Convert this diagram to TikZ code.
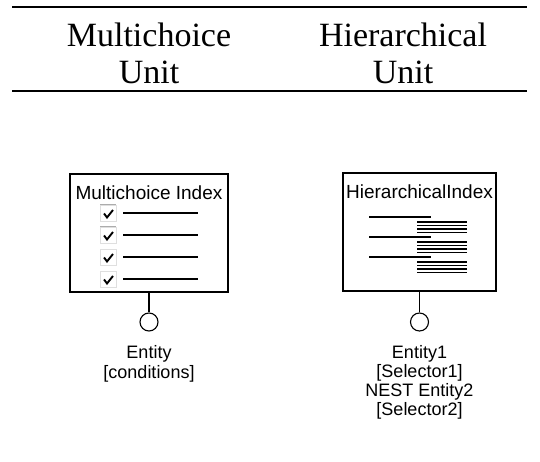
\documentclass[tikz,border=0pt]{standalone}
\usepackage{fontspec}
\setmainfont{Liberation Serif}
\newfontfamily\arialf{Liberation Sans}
\begin{document}
\begin{tikzpicture}[x=1pt,y=-1pt,
  rule/.style={line width=1.8pt},
  hdr/.style={font=\fontsize{34}{36.5}\selectfont, align=center, inner sep=0pt, anchor=north},
  ubox/.style={draw, line width=1.3pt, inner sep=0pt},
  ttl/.style={font=\arialf\fontsize{19}{22}\selectfont, inner sep=0pt, anchor=base},
  stem/.style={line width=1.3pt},
  port/.style={draw, circle, line width=1.1pt, minimum size=18pt, inner sep=0pt},
  lbl/.style={font=\arialf\fontsize{18}{20}\selectfont, align=center, inner sep=0pt, anchor=north},
  bar/.style={line width=1.3pt},
  sbar/.style={line width=1.1pt},
  chk/.style={minimum size=16pt, inner sep=0pt, draw=gray!25, fill=white, line width=0.8pt,
    path picture={
      \draw[line width=2.6pt, gray!65]
        (path picture bounding box.south west) -- (path picture bounding box.north west)
        -- (path picture bounding box.north east);
      \draw[black, line width=1.9pt, line join=miter]
        ([shift={(-4,0.5)}]path picture bounding box.center) -- ++(3,4) -- ++(6,-7.5);
    }},
]
\path[use as bounding box] (0,0) rectangle (540,462);

% header rules
\coordinate (r1a) at (12,7);
\coordinate (r1b) at (527,7);
\coordinate (r2a) at (12,91);
\coordinate (r2b) at (527,91);
\draw[rule] (r1a) -- (r1b);
\draw[rule] (r2a) -- (r2b);

\node[hdr] (h1) at (149,23) {Multichoice\\Unit};
\node[hdr] (h2) at (403,23) {Hierarchical\\Unit};

% left unit
\node[ubox, minimum width=158pt, minimum height=118pt] (lbox) at (149,233) {};
\node[ttl] (lttl) at (149,200) {Multichoice Index};
\foreach \i/\yy in {1/213,2/235,3/257,4/279}{
  \node[chk] (c\i) at (108,\yy) {};
  \coordinate (la\i) at (123,\yy);
  \coordinate (lb\i) at (198,\yy);
  \draw[bar] (la\i) -- (lb\i);
}
\node[port] (lp) at (149,322) {};
\draw[stem] (lbox.south) -- (lp.north);
\node[lbl] (ll) at (149,345) {Entity\\{}[conditions]};

% right unit
\node[ubox, minimum width=153pt, minimum height=118pt] (rbox) at (419.5,232) {};
\node[ttl] (rttl) at (419.5,199) {HierarchicalIndex};
\foreach \j/\yy in {1/217,2/237,3/257}{
  \coordinate (ha\j) at (369,\yy);
  \coordinate (hb\j) at (431,\yy);
  \draw[bar] (ha\j) -- (hb\j);
  \foreach \k in {5,8.5,12,15.5}{
    \coordinate (sa) at (417,\yy+\k);
    \coordinate (sb) at (467,\yy+\k);
    \draw[sbar] (sa) -- (sb);
  }
}
\node[port] (rp) at (419.5,322) {};
\draw[stem] (rbox.south) -- (rp.north);
\node[lbl, font=\arialf\fontsize{18}{19}\selectfont] (rl) at (419.5,345) {Entity1\\{}[Selector1]\\NEST Entity2\\{}[Selector2]};
\end{tikzpicture}
\end{document}
